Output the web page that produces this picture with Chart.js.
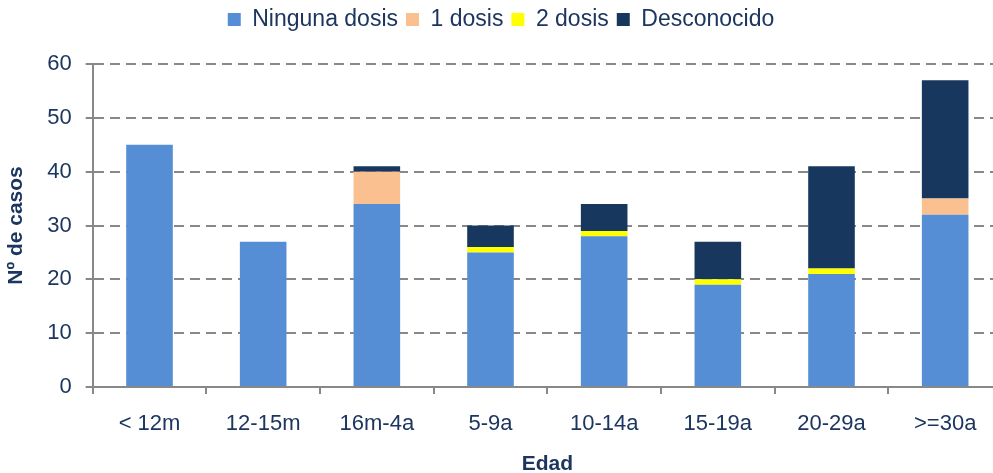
<!DOCTYPE html>
<html>
<head>
<meta charset="utf-8">
<script src="https://cdn.jsdelivr.net/npm/chart.js@4/dist/chart.umd.min.js"></script>
<style>
  body { margin: 0; background: #fff; overflow: hidden; }
  #wrap { width: 1002px; height: 473px; }
</style>
</head>
<body>
<div id="wrap"><canvas id="casosChart"></canvas></div>
<script>
// Casos por edad y estado vacunal
const edades = ['< 12m', '12-15m', '16m-4a', '5-9a', '10-14a', '15-19a', '20-29a', '>=30a'];
const ningunaDosis = [45, 27, 34, 25, 28, 19, 21, 32];
const unaDosis = [0, 0, 6, 0, 0, 0, 0, 3];
const dosDosis = [0, 0, 0, 1, 1, 1, 1, 0];
const desconocido = [0, 0, 1, 4, 5, 7, 19, 22];

const textColor = '#1c3660';
Chart.defaults.font.family = '"Liberation Sans", Arial, sans-serif';
Chart.defaults.color = textColor;

// extra space under the legend
const legendGap = {
  id: 'legendGap',
  beforeInit(chart) {
    const fit = chart.legend.fit;
    chart.legend.fit = function () {
      fit.bind(chart.legend)();
      this.height += 23;
    };
  }
};

const ctx = document.getElementById('casosChart').getContext('2d');
new Chart(ctx, {
  type: 'bar',
  data: {
    labels: edades,
    datasets: [
      { label: 'Ninguna dosis', data: ningunaDosis, backgroundColor: '#558ed5' },
      { label: '1 dosis', data: unaDosis, backgroundColor: '#fac090' },
      { label: '2 dosis', data: dosDosis, backgroundColor: '#ffff00' },
      { label: 'Desconocido', data: desconocido, backgroundColor: '#17375e' }
    ]
  },
  options: {
    responsive: true,
    maintainAspectRatio: false,
    animation: false,
    layout: { padding: { top: 0, right: 0, left: 0, bottom: -2 } },
    datasets: { bar: { barPercentage: 1, categoryPercentage: 0.41 } },
    plugins: {
      legend: {
        position: 'top',
        labels: {
          boxWidth: 13, boxHeight: 13, padding: 8,
          color: textColor,
          font: { size: 23 }
        }
      },
      tooltip: { enabled: false }
    },
    scales: {
      x: {
        stacked: true,
        grid: { offset: true, drawOnChartArea: false, color: '#888', tickLength: 7, lineWidth: 2 },
        border: { color: '#888', width: 2 },
        ticks: { font: { size: 22, lineHeight: 1 }, padding: 19 },
        title: { display: true, text: 'Edad', color: textColor, font: { size: 21, weight: 'bold', lineHeight: 1 }, padding: { top: 0, bottom: 0 } }
      },
      y: {
        stacked: true,
        min: 0, max: 60,
        ticks: { stepSize: 10, font: { size: 22 }, padding: 14 },
        grid: { color: '#888', lineWidth: 2, tickLength: 7 },
        border: { color: '#888', width: 2, dash: [10, 6] },
        title: { display: true, text: 'Nº de casos', color: textColor, font: { size: 21, weight: 'bold' }, padding: { bottom: 4 } }
      }
    }
  },
  plugins: [legendGap]
});
</script>
</body>
</html>
